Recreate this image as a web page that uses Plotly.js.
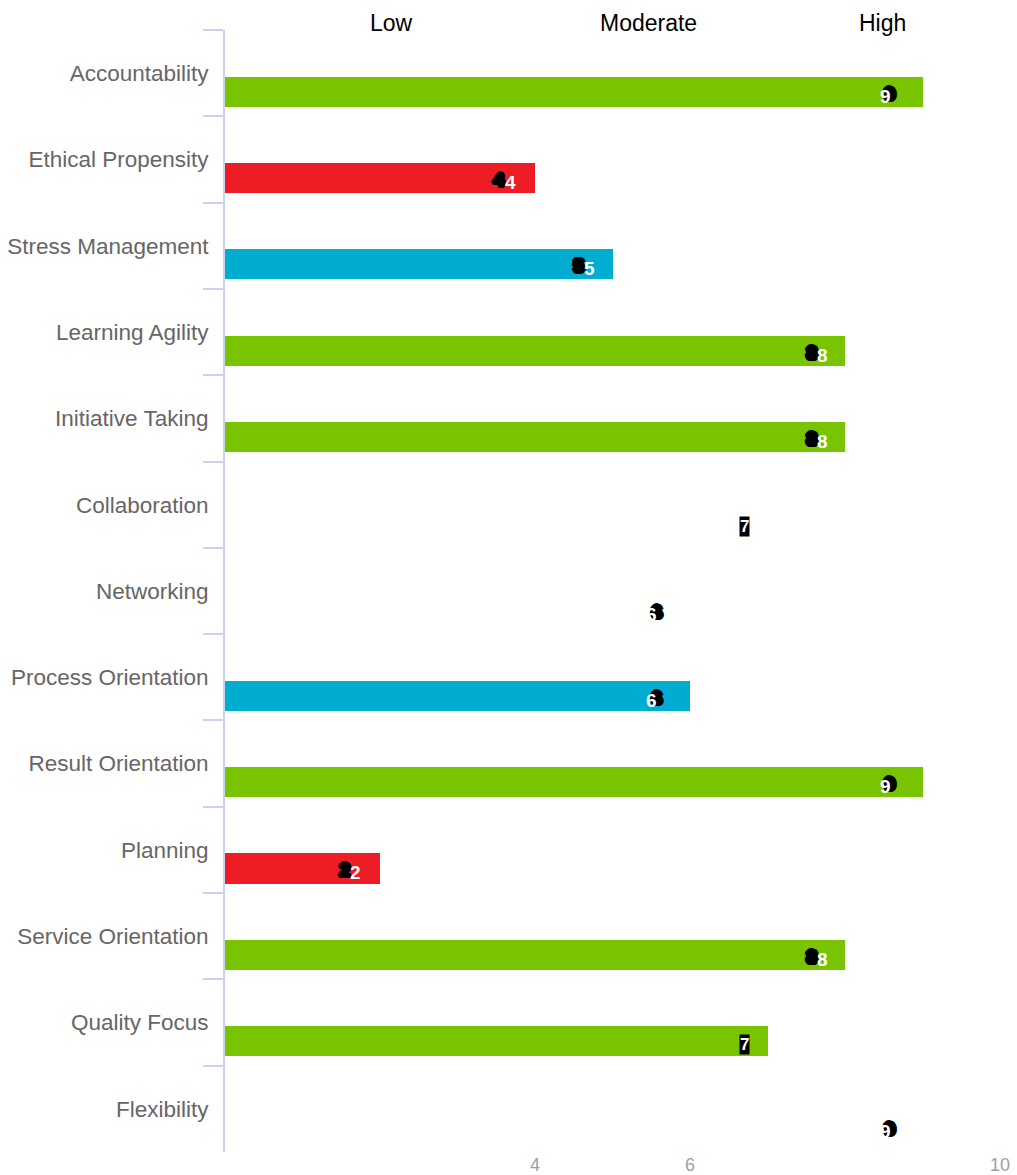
<!DOCTYPE html>
<html>
<head>
<meta charset="utf-8">
<script src="https://cdn.plot.ly/plotly-3.0.1.min.js"></script>
<style>html,body{margin:0;padding:0;background:#fff;}</style>
</head>
<body>
<div id="chart" style="width:1017px;height:1175px;"></div>
<script>
// ---- data ----
const categories = ["Accountability","Ethical Propensity","Stress Management","Learning Agility",
  "Initiative Taking","Collaboration","Networking","Process Orientation","Result Orientation",
  "Planning","Service Orientation","Quality Focus","Flexibility"];
const scores = [9,4,5,8,8,7,6,6,9,2,8,7,9];
const barShown = [true,true,true,true,true,false,false,true,true,true,true,true,false];
const levels = ["High","Low","Moderate","High","High","High","Moderate","Moderate","High","Low","High","High","High"];
const levelNames = ["Low","Moderate","High"];
const levelPos = [2.15,5.46,8.49];
const xTicks = [4,6,10];

// ---- styles ----
const levelColors = {High:"#78c400", Moderate:"#00acd0", Low:"#ee1d25"};
const FONT = "Arial, 'Liberation Sans', sans-serif";

const barX = scores.map((v,i)=> barShown[i] ? v : null);
const barColors = levels.map(l=>levelColors[l]);

const trace = {
  type:"bar", orientation:"h",
  x: barX, y: categories,
  marker:{color: barColors, line:{width:0}},
  width: 0.35, offset: 0.04,
  hoverinfo:"skip", showlegend:false
};

// label offsets (pixels) relative to value end
function shifts(v){
  if (v===9) return {w:-37, b:-33};
  if (v===6) return {w:-39, b:-34};
  if (v===7) return {w:-23, b:null};
  if (v===4) return {w:-25, b:-37};
  if (v===2) return {w:-25, b:-36};
  return {w:-23, b:-34};
}
const blob = "1px 0 0 #000, -1px 0 0 #000, 0 1px 0 #000, 0 -1px 0 #000, 1px 1px 0 #000, -1px -1px 0 #000, 1px -1px 0 #000, -1px 1px 0 #000, 2px 0 0 #000, -2px 0 0 #000, 0 2px 0 #000, 0 -2px 0 #000, 2px 2px 0 #000, 2px -1px 0 #000, -1px 2px 0 #000, 3px 1px 0 #000";
const annotations = [];
categories.forEach((c,i)=>{
  const v = scores[i];
  const s = shifts(v);
  if (s.b === null){
    annotations.push({xref:"x", yref:"y", x:v, y:c, text:String(v), showarrow:false,
      xshift:s.w, yshift:-22, bgcolor:"#000", borderpad:0,
      font:{family:FONT, size:17, color:"#fff", weight:"bold"}});
  } else {
    annotations.push({xref:"x", yref:"y", x:v, y:c, text:String(v), showarrow:false,
      xshift:s.b, yshift:-20,
      font:{family:FONT, size:19, color:"#000", weight:"bold", shadow:blob}});
    annotations.push({xref:"x", yref:"y", x:v, y:c, text:String(v), showarrow:false,
      xshift:s.w, yshift:-23,
      font:{family:FONT, size:19, color:"#fff", weight:"bold"}});
  }
});
levelNames.forEach((n,i)=>{
  annotations.push({xref:"x", yref:"paper", x:levelPos[i], y:1, yanchor:"middle",
    yshift:7, text:n, showarrow:false,
    font:{family:FONT, size:23, color:"#000"}});
});

const layout = {
  width:1017, height:1175,
  margin:{l:225, r:17, t:30, b:23},
  paper_bgcolor:"#fff", plot_bgcolor:"#fff",
  font:{family:FONT},
  xaxis:{range:[0,10], tickvals:xTicks, showgrid:false, zeroline:false, showline:false,
    ticks:"", tickfont:{size:18, color:"#a0a0a0", family:FONT}},
  yaxis:{type:"category", autorange:"reversed", showgrid:false, zeroline:false,
    showline:true, linecolor:"#c9d4ea", linewidth:2,
    ticks:"outside", tickson:"boundaries", ticklen:20, tickwidth:2, tickcolor:"#c9d4ea",
    ticklabelstandoff:10,
    tickfont:{size:22.5, color:"#666666", family:FONT}},
  annotations: annotations,
  bargap:0
};
Plotly.newPlot("chart",[trace],layout,{staticPlot:true, displayModeBar:false});
</script>
</body>
</html>
